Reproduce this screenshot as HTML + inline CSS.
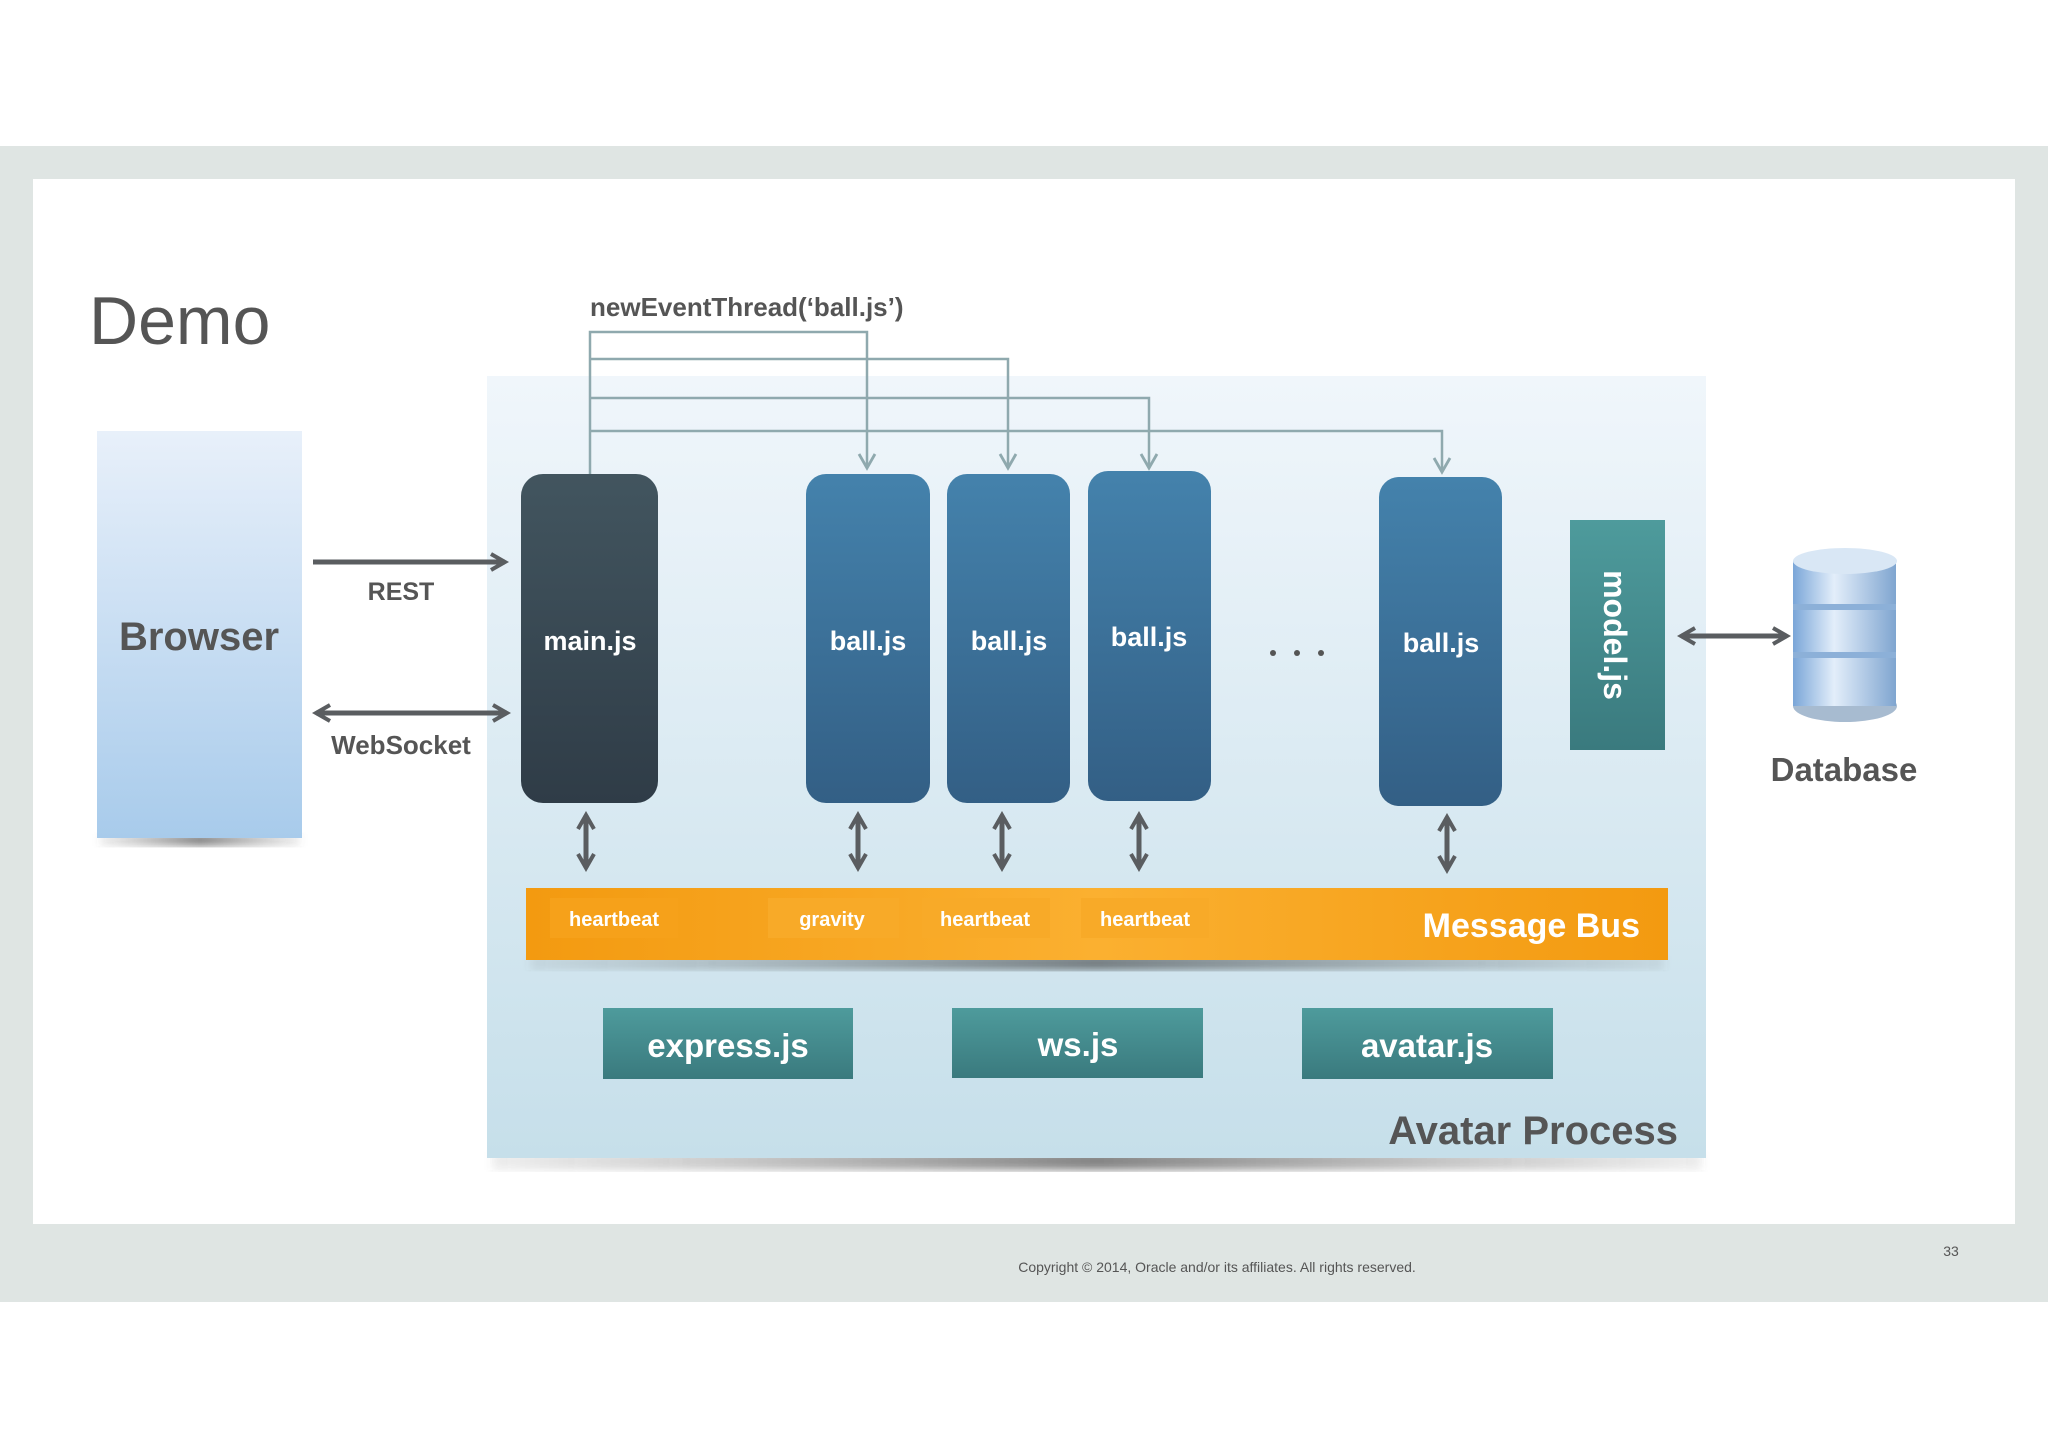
<!DOCTYPE html>
<html><head><meta charset="utf-8"><style>
html,body{margin:0;padding:0;background:#fff}
svg{display:block}
text{font-family:"Liberation Sans",sans-serif}
</style></head><body>
<svg width="2048" height="1448" viewBox="0 0 2048 1448" xmlns="http://www.w3.org/2000/svg">
<defs>
<linearGradient id="bg" x1="0" y1="0" x2="0" y2="1"><stop offset="0" stop-color="#f0f6fb"/><stop offset="1" stop-color="#c6dfea"/></linearGradient>
<linearGradient id="br" x1="0" y1="0" x2="0" y2="1"><stop offset="0" stop-color="#e8f0fa"/><stop offset="1" stop-color="#a8cbeb"/></linearGradient>
<linearGradient id="mn" x1="0" y1="0" x2="0" y2="1"><stop offset="0" stop-color="#42555f"/><stop offset="1" stop-color="#2f3c47"/></linearGradient>
<linearGradient id="bl" x1="0" y1="0" x2="0" y2="1"><stop offset="0" stop-color="#4482ac"/><stop offset="1" stop-color="#335f85"/></linearGradient>
<linearGradient id="tl" x1="0" y1="0" x2="0" y2="1"><stop offset="0" stop-color="#4e9b9c"/><stop offset="1" stop-color="#3a7a7e"/></linearGradient>
<linearGradient id="or" x1="0" y1="0" x2="1" y2="0"><stop offset="0" stop-color="#f39a10"/><stop offset="0.5" stop-color="#fbb030"/><stop offset="1" stop-color="#f39a10"/></linearGradient>
<linearGradient id="cy" x1="0" y1="0" x2="1" y2="0"><stop offset="0" stop-color="#7aa6d8"/><stop offset="0.4" stop-color="#e3eefa"/><stop offset="1" stop-color="#7fa5d0"/></linearGradient>
<linearGradient id="sh" x1="0" y1="0" x2="1" y2="0"><stop offset="0" stop-color="#555" stop-opacity="0.1"/><stop offset="0.5" stop-color="#333" stop-opacity="0.6"/><stop offset="1" stop-color="#555" stop-opacity="0.1"/></linearGradient>
<filter id="bl3"><feGaussianBlur stdDeviation="4"/></filter>
<marker id="ah" viewBox="0 0 10 10" refX="8" refY="5" markerWidth="4" markerHeight="4" orient="auto-start-reverse"><path d="M1,1 L8,5 L1,9" fill="none" stroke="#5a5d60" stroke-width="2"/></marker>
<marker id="ah2" viewBox="0 0 10 10" refX="8" refY="5" markerWidth="8" markerHeight="8" orient="auto"><path d="M1,1 L8,5 L1,9" fill="none" stroke="#8fa9ae" stroke-width="1.4"/></marker>
</defs>
<rect x="0" y="146" width="2048" height="1156" fill="#dfe5e3"/>
<rect x="33" y="179" width="1982" height="1045" fill="#fff"/>
<text x="89" y="344" font-size="68" fill="#555">Demo</text>
<!-- avatar box -->
<rect x="492" y="1152" width="1210" height="18" fill="url(#sh)" filter="url(#bl3)"/>
<rect x="487" y="376" width="1219" height="782" fill="url(#bg)"/>
<!-- browser -->
<rect x="100" y="834" width="200" height="12" fill="url(#sh)" filter="url(#bl3)"/>
<rect x="97" y="431" width="205" height="407" fill="url(#br)"/>
<text x="199" y="650" font-size="40" font-weight="bold" fill="#555" text-anchor="middle">Browser</text>
<!-- connectors -->
<g fill="none" stroke="#8fa9ae" stroke-width="2.5">
<path d="M590 474 V332 H867 V468" marker-end="url(#ah2)"/>
<path d="M590 359 H1008 V468" marker-end="url(#ah2)"/>
<path d="M590 398 H1149 V468" marker-end="url(#ah2)"/>
<path d="M590 431 H1442 V472" marker-end="url(#ah2)"/>
</g>
<text x="590" y="316" font-size="26" font-weight="bold" fill="#555">newEventThread(‘ball.js’)</text>
<!-- arrows -->
<g stroke="#5a5d60" stroke-width="5" fill="none">
<line x1="313" y1="562" x2="505" y2="562" marker-end="url(#ah)"/>
<line x1="316" y1="713" x2="507" y2="713" marker-start="url(#ah)" marker-end="url(#ah)"/>
<line x1="1681" y1="636" x2="1787" y2="636" marker-start="url(#ah)" marker-end="url(#ah)"/>
<line x1="586" y1="815" x2="586" y2="868" marker-start="url(#ah)" marker-end="url(#ah)"/>
<line x1="858" y1="815" x2="858" y2="868" marker-start="url(#ah)" marker-end="url(#ah)"/>
<line x1="1002" y1="815" x2="1002" y2="868" marker-start="url(#ah)" marker-end="url(#ah)"/>
<line x1="1139" y1="815" x2="1139" y2="868" marker-start="url(#ah)" marker-end="url(#ah)"/>
<line x1="1447" y1="817" x2="1447" y2="870" marker-start="url(#ah)" marker-end="url(#ah)"/>
</g>
<text x="401" y="600" font-size="25" font-weight="bold" fill="#555" text-anchor="middle">REST</text>
<text x="401" y="754" font-size="26" font-weight="bold" fill="#555" text-anchor="middle">WebSocket</text>
<!-- nodes -->
<rect x="521" y="474" width="137" height="329" rx="22" fill="url(#mn)"/>
<text x="590" y="650" font-size="27" font-weight="bold" fill="#fff" text-anchor="middle">main.js</text>
<g font-size="27" font-weight="bold" fill="#fff" text-anchor="middle">
<rect x="806" y="474" width="124" height="329" rx="20" fill="url(#bl)"/>
<text x="868" y="650">ball.js</text>
<rect x="947" y="474" width="123" height="329" rx="20" fill="url(#bl)"/>
<text x="1009" y="650">ball.js</text>
<rect x="1088" y="471" width="123" height="330" rx="20" fill="url(#bl)"/>
<text x="1149" y="646">ball.js</text>
<rect x="1379" y="477" width="123" height="329" rx="20" fill="url(#bl)"/>
<text x="1441" y="652">ball.js</text>
</g>
<g fill="#555"><circle cx="1273" cy="653" r="3"/><circle cx="1297" cy="653" r="3"/><circle cx="1321" cy="653" r="3"/></g>
<rect x="1570" y="520" width="95" height="230" fill="url(#tl)"/>
<text transform="translate(1604,635) rotate(90)" font-size="32" font-weight="bold" fill="#fff" text-anchor="middle">model.js</text>
<!-- database -->
<g>
<ellipse cx="1845" cy="706" rx="52" ry="16" fill="#a7bbd0"/>
<rect x="1793" y="561" width="103" height="145" fill="url(#cy)"/>
<rect x="1793" y="604" width="103" height="6" fill="#8cb0d8"/>
<rect x="1793" y="652" width="103" height="6" fill="#8cb0d8"/>
<ellipse cx="1845" cy="561" rx="52" ry="13" fill="#d9e7f5"/>
</g>
<text x="1844" y="781" font-size="33" font-weight="bold" fill="#555" text-anchor="middle">Database</text>
<!-- message bus -->
<rect x="530" y="956" width="1134" height="14" fill="url(#sh)" filter="url(#bl3)"/>
<rect x="526" y="888" width="1142" height="72" fill="url(#or)"/>
<g font-size="20" font-weight="bold" fill="#fff" text-anchor="middle">
<rect x="550" y="898" width="128" height="40" fill="#f6a11a"/><text x="614" y="926">heartbeat</text>
<rect x="768" y="898" width="131" height="40" fill="#f8aa28"/><text x="832" y="926">gravity</text>
<rect x="922" y="898" width="128" height="40" fill="#f8aa28"/><text x="985" y="926">heartbeat</text>
<rect x="1081" y="898" width="128" height="40" fill="#f8aa28"/><text x="1145" y="926">heartbeat</text>
</g>
<text x="1640" y="937" font-size="34" font-weight="bold" fill="#fff" text-anchor="end">Message Bus</text>
<g font-size="33" font-weight="bold" fill="#fff" text-anchor="middle">
<rect x="603" y="1008" width="250" height="71" fill="url(#tl)"/><text x="728" y="1057">express.js</text>
<rect x="952" y="1008" width="251" height="70" fill="url(#tl)"/><text x="1078" y="1056">ws.js</text>
<rect x="1302" y="1008" width="251" height="71" fill="url(#tl)"/><text x="1427" y="1057">avatar.js</text>
</g>
<text x="1678" y="1144" font-size="40" font-weight="bold" fill="#555" text-anchor="end">Avatar Process</text>
<text x="1217" y="1272" font-size="14" fill="#555" text-anchor="middle">Copyright © 2014, Oracle and/or its affiliates. All rights reserved.</text>
<text x="1951" y="1256" font-size="14" fill="#555" text-anchor="middle">33</text>
</svg>
</body></html>
